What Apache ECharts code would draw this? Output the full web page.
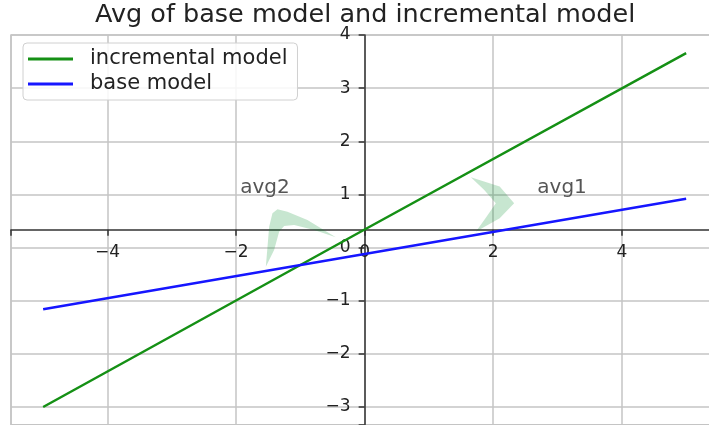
<!DOCTYPE html>
<html><head><meta charset="utf-8">
<script src="https://cdn.jsdelivr.net/npm/echarts@6/dist/echarts.min.js"></script>
<style>html,body{margin:0;padding:0;background:#fff}#c{width:709px;height:425px}</style>
</head><body><div id="c"></div>
<script>
// ---- data ----
const xValues = [-5, 0, 5];
const incrementalValues = [-3.0, 0.34, 3.66];
const baseValues = [-1.16, -0.12, 0.92];
const seriesNames = ['incremental model', 'base model'];
const annoText = ['avg1', 'avg2'];
const annoX = [3.07, -1.55];
const annoY = [1.12, 1.12];
// annotation arrow outlines (data coordinates)
const avg1Arrow = [[1.652,1.323],[2.10,1.15],[2.325,0.834],[2.10,0.55],[1.729,0.299],[1.89,0.572],[2.040,0.834],[1.86,1.084]];
const avg2Arrow = [[-1.537,-0.359],[-1.485,0.393],[-1.434,0.645],[-1.356,0.721],[-1.201,0.676],[-0.890,0.519],[-0.448,0.194],[-0.785,0.331],[-1.096,0.425],[-1.252,0.406],[-1.330,0.299],[-1.408,-0.045]];

const GREEN = '#159015';
const BLUE = '#1616ff';
const GRID_W = 707.3;
const GRID_H = 389.7;
const FONT = 'DejaVu Sans';
const minus = v => String(v).replace('-', '\u2212');

const chart = echarts.init(document.getElementById('c'), null, {renderer: 'canvas'});
chart.setOption({
  animation: false,
  backgroundColor: '#fff',
  title: {
    text: 'Avg of base model and incremental model',
    left: 95, top: 2, padding: 0,
    textStyle: {fontSize: 25.5, fontFamily: FONT, fontWeight: 'normal', color: '#222'}
  },
  legend: {
    orient: 'vertical', left: 23, top: 43,
    padding: [5, 10, 5, 5], itemGap: 3, itemWidth: 45, itemHeight: 3, icon: 'rect',
    backgroundColor: 'rgba(255,255,255,0.85)', borderColor: '#d0d0d0', borderWidth: 1, borderRadius: 4,
    textStyle: {fontSize: 21, fontFamily: FONT, color: '#222', lineHeight: 22, padding: [0, 0, 0, 12]},
    data: seriesNames
  },
  grid: {left: 11, top: 35, width: GRID_W, height: GRID_H, show: true, borderColor: '#c4c4c4', borderWidth: 1.5,
    containLabel: false, outerBoundsMode: 'none'},
  xAxis: {
    type: 'value', min: -5.5, max: 5.5, splitNumber: 5,
    position: 'bottom', offset: -GRID_H / 2,
    axisLine: {onZero: false, lineStyle: {color: '#333', width: 1.5}},
    axisTick: {show: true, length: 6, lineStyle: {color: '#333', width: 1.5}},
    axisLabel: {margin: 14, fontSize: 17, fontFamily: FONT, color: '#222',
      formatter: v => (Math.abs(v % 2) < 1e-9 ? minus(v) : '')},
    splitLine: {show: true, lineStyle: {color: '#c4c4c4', width: 1.5}}
  },
  yAxis: {
    type: 'value', min: -3.3333, max: 4, splitNumber: 7,
    position: 'left', offset: -GRID_W / 2,
    axisLine: {onZero: false, lineStyle: {color: '#333', width: 1.5}},
    axisTick: {show: true, length: 6, lineStyle: {color: '#333', width: 1.5}},
    axisLabel: {margin: 14, fontSize: 17, fontFamily: FONT, color: '#222',
      formatter: v => (Number.isInteger(v) ? minus(v) : '')},
    splitLine: {show: true, lineStyle: {color: '#c4c4c4', width: 1.5}}
  },
  series: [
    {
      type: 'custom', z: 1, silent: true,
      data: [[0, 0]],
      renderItem: (params, api) => {
        const poly = pts => ({
          type: 'polygon',
          shape: {points: pts.map(p => api.coord(p))},
          style: {fill: 'rgba(0,140,40,0.22)'}
        });
        const texts = annoText.map((t, i) => {
          const p = api.coord([annoX[i], annoY[i]]);
          return {type: 'text', x: p[0], y: p[1],
            style: {text: t, fill: '#555', font: '20px "DejaVu Sans"', align: 'center', verticalAlign: 'middle'}};
        });
        return {type: 'group', children: [poly(avg1Arrow), poly(avg2Arrow)].concat(texts)};
      }
    },
    {
      name: seriesNames[0], type: 'line', z: 3, symbol: 'none', showSymbol: false,
      color: GREEN, lineStyle: {width: 2.5, color: GREEN},
      data: xValues.map((x, i) => [x, incrementalValues[i]])
    },
    {
      name: seriesNames[1], type: 'line', z: 3, symbol: 'none', showSymbol: false,
      color: BLUE, lineStyle: {width: 2.5, color: BLUE},
      data: xValues.map((x, i) => [x, baseValues[i]])
    }
  ]
});
</script></body></html>
